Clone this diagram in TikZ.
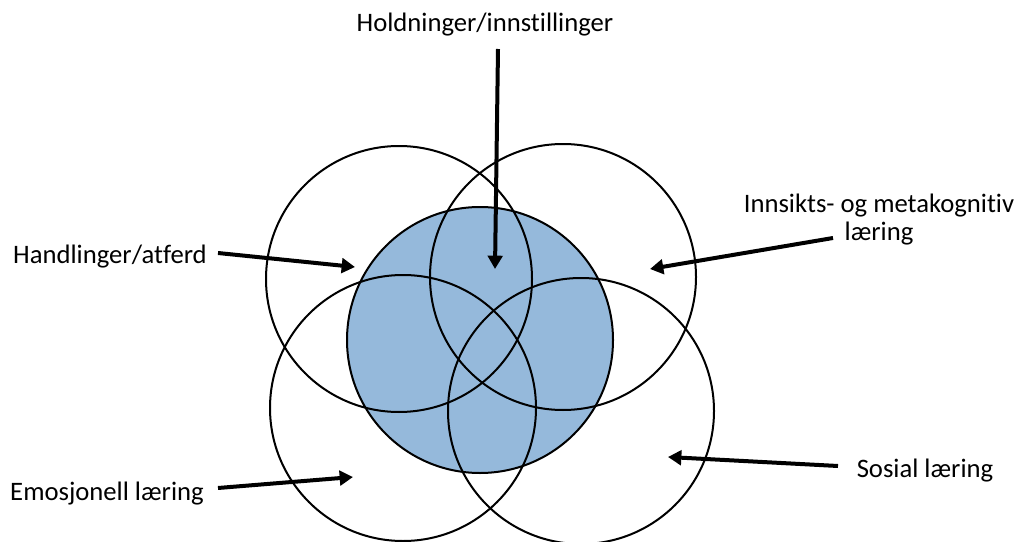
\documentclass[tikz,border=0pt]{standalone}
\usepackage{fontspec}
\setmainfont{Carlito}[Ligatures={NoCommon}]
\usepackage{xcolor}
\usepackage{tikz}
\usetikzlibrary{arrows.meta}
\definecolor{kjernebla}{RGB}{149,185,219}

\begin{document}
\begin{tikzpicture}[x=0.75pt,y=-0.75pt,
  ring/.style={circle,draw=black,line width=1.5pt,minimum size=199.5pt,inner sep=0pt},
  pil/.style={line width=3pt,-{Triangle[length=10pt,width=11pt]}},
  etikett/.style={font=\fontsize{20}{21}\selectfont,anchor=base,inner sep=0pt}]
  \useasboundingbox (0,0) rectangle (1025,542);
  % kjernen og de fire ringene
  \node[ring,fill=kjernebla] (kjerne) at (480,340) {};
  \foreach \navn/\x/\y in {oppvenstre/399/279,opphoyre/563/277,nedvenstre/403/408,nedhoyre/581/411}{
    \node[ring] (\navn) at (\x,\y) {};
  }
  % tekster
  \node[etikett] (holdning) at (485,32) {Holdninger/innstillinger};
  \node[etikett] (handling) at (110,263) {Handlinger/atferd};
  \node[etikett,align=center] (innsikt) at (879,240) {Innsikts- og metakognitiv\\l\ae ring};
  \node[etikett] (emosjon) at (107,500) {Emosjonell l\ae ring};
  \node[etikett] (sosial) at (925,477) {Sosial l\ae ring};
  % piler
  \foreach \navn/\fx/\fy/\tx/\ty in {holdning/498/49/495/269,handling/218/253/355/267,
      innsikt/833/238/650/269,emosjon/218/488/353/477,sosial/838/466/668/457}{
    \coordinate (\navn-fra) at (\fx,\fy);
    \coordinate (\navn-til) at (\tx,\ty);
    \draw[pil] (\navn-fra) -- (\navn-til);
  }
\end{tikzpicture}
\end{document}
